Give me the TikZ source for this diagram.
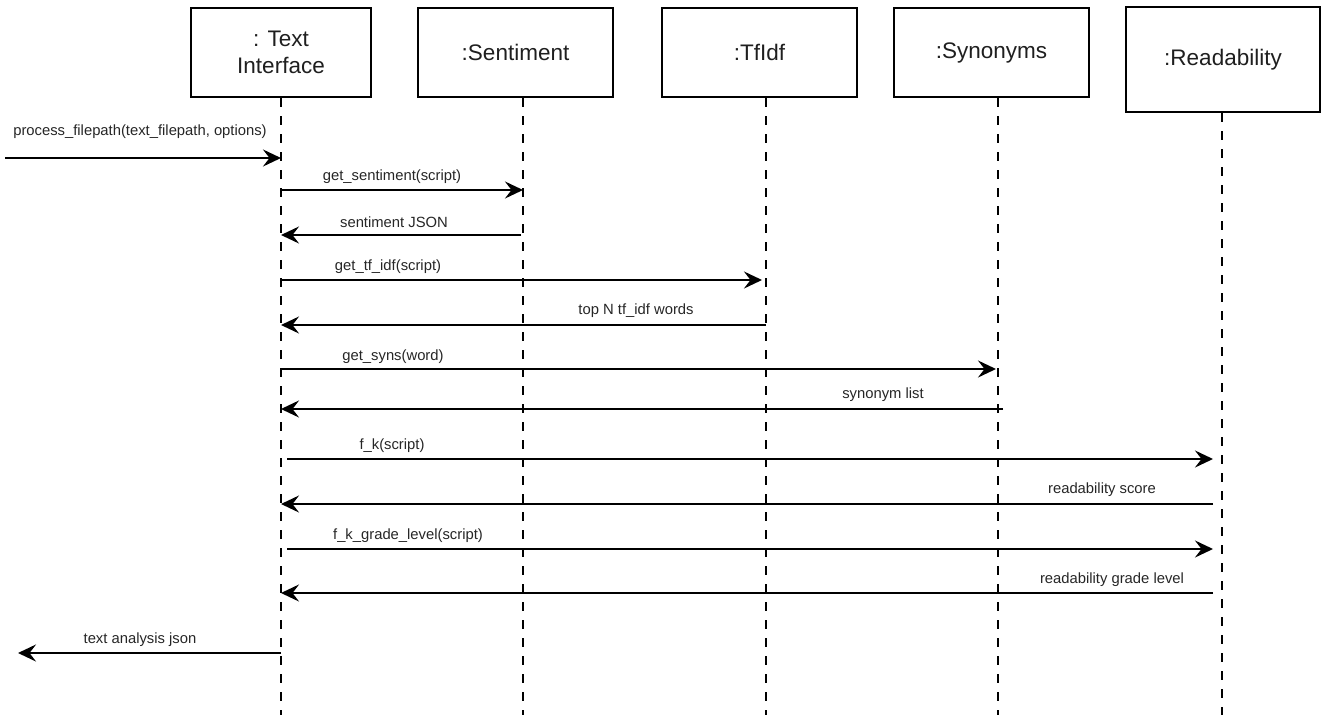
\documentclass[tikz,border=0pt]{standalone}
\usepackage{fontspec}
\setmainfont{Liberation Sans}
\usetikzlibrary{arrows.meta}
\begin{document}
\begin{tikzpicture}[x=1pt,y=-1pt,
  obj/.style={draw=black, line width=1.4pt, fill=white, inner sep=0pt, align=center,
    font=\fontsize{22.5}{27}\selectfont, text=black!88},
  life/.style={line width=2.8pt, dash pattern=on 9pt off 9pt},
  msg/.style={line width=2.3pt, -{Stealth[length=18pt,width=17pt,inset=6.5pt]}},
  lbl/.style={font=\fontsize{14.8}{17}\selectfont, inner sep=0pt, text=black!85}
]
\useasboundingbox (0,0) rectangle (1325,715);

% objects
\node[obj, minimum width=180pt, minimum height=89pt] (ti) at (281,52.5) {: Text\\Interface};
\node[obj, minimum width=195pt, minimum height=89pt] (sen) at (515.5,52.5) {:Sentiment};
\node[obj, minimum width=195pt, minimum height=89pt] (tfi) at (759.5,52.5) {:TfIdf};
\node[obj, minimum width=195pt, minimum height=89pt] (syn) at (991.5,52.5) {:Synonyms};
\node[obj, minimum width=194pt, minimum height=105pt] (rea) at (1223,59.5) {:Readability};

% lifelines
\coordinate (tiT) at (281,98);   \coordinate (tiB) at (281,715);
\coordinate (senT) at (523,98);  \coordinate (senB) at (523,715);
\coordinate (tfiT) at (766,98);  \coordinate (tfiB) at (766,715);
\coordinate (synT) at (998,98);  \coordinate (synB) at (998,715);
\coordinate (reaT) at (1222,113); \coordinate (reaB) at (1222,715);
\draw[life] (tiT) -- (tiB);
\draw[life] (senT) -- (senB);
\draw[life] (tfiT) -- (tfiB);
\draw[life] (synT) -- (synB);
\draw[life] (reaT) -- (reaB);

% message end points
\coordinate (m1a) at (5,158);     \coordinate (m1b) at (281,158);
\coordinate (m2a) at (281,190);   \coordinate (m2b) at (523,190);
\coordinate (m3a) at (521,235);   \coordinate (m3b) at (281,235);
\coordinate (m4a) at (281,280);   \coordinate (m4b) at (762,280);
\coordinate (m5a) at (766,325);   \coordinate (m5b) at (281,325);
\coordinate (m6a) at (281,369);   \coordinate (m6b) at (996,369);
\coordinate (m7a) at (1003,409);  \coordinate (m7b) at (281,409);
\coordinate (m8a) at (287,459);   \coordinate (m8b) at (1213,459);
\coordinate (m9a) at (1213,504);  \coordinate (m9b) at (281,504);
\coordinate (m10a) at (287,549);  \coordinate (m10b) at (1213,549);
\coordinate (m11a) at (1213,593); \coordinate (m11b) at (281,593);
\coordinate (m12a) at (281,653);  \coordinate (m12b) at (18,653);

\draw[msg] (m1a) -- (m1b);
\draw[msg] (m2a) -- (m2b);
\draw[msg] (m3a) -- (m3b);
\draw[msg] (m4a) -- (m4b);
\draw[msg] (m5a) -- (m5b);
\draw[msg] (m6a) -- (m6b);
\draw[msg] (m7a) -- (m7b);
\draw[msg] (m8a) -- (m8b);
\draw[msg] (m9a) -- (m9b);
\draw[msg] (m10a) -- (m10b);
\draw[msg] (m11a) -- (m11b);
\draw[msg] (m12a) -- (m12b);

% labels
\node[lbl] (l1) at (140,132) {process\_filepath(text\_filepath, options)};
\node[lbl] (l2) at (392,177) {get\_sentiment(script)};
\node[lbl] (l3) at (394,222) {sentiment JSON};
\node[lbl] (l4) at (388,267) {get\_tf\_idf(script)};
\node[lbl] (l5) at (636,311) {top N tf\_idf words};
\node[lbl] (l6) at (393,357) {get\_syns(word)};
\node[lbl] (l7) at (883,395) {synonym list};
\node[lbl] (l8) at (392,446) {f\_k(script)};
\node[lbl] (l9) at (1102,490) {readability score};
\node[lbl] (l10) at (408,536) {f\_k\_grade\_level(script)};
\node[lbl] (l11) at (1112,580) {readability grade level};
\node[lbl] (l12) at (140,640) {text analysis json};
\end{tikzpicture}
\end{document}
